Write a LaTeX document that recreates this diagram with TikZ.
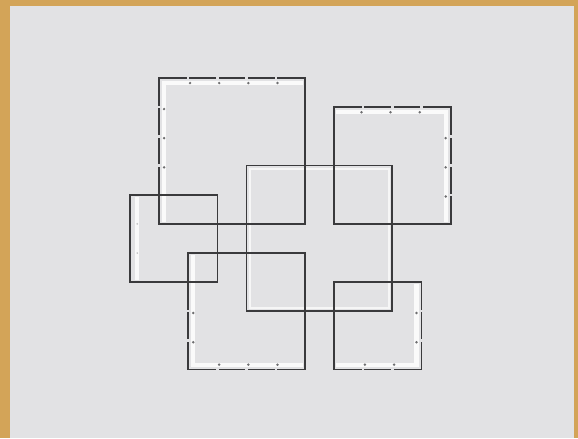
\documentclass[tikz,border=0pt]{standalone}
\definecolor{paper}{HTML}{E2E2E4}
\definecolor{frame}{HTML}{D3A458}
\definecolor{edge}{HTML}{3A3A3C}
\definecolor{stitch}{HTML}{6E6E70}

\begin{document}
\begin{tikzpicture}[x=.75cm,y=.75cm,
  outline/.style={draw=edge,line width=1.3pt},
  band/.style={draw=white,line width=3pt,opacity=.85},
  faintband/.style={draw=white,line width=1.4pt,opacity=.7},
  gap/.style={fill=paper},
  notch/.style={fill=stitch}]
% frame and paper
\useasboundingbox (-4.46,-2.35) rectangle (15.37,12.68);
\fill[frame] (-4.46,-2.35) rectangle (15.37,12.68);
\fill[paper] (-4.12,-2.35) rectangle (15.23,12.49);
% light bands inside the edges
\draw[band] (1.17,5.05)--(1.17,9.83)--(5.92,9.83);
\draw[band] (.25,3.08)--(.25,5.92);
\draw[band] (2.17,3.92)--(2.17,.17)--(5.92,.17);
\draw[band] (7.08,8.83)--(10.83,8.83)--(10.83,5.08);
\draw[band] (9.83,2.92)--(9.83,.17)--(7.08,.17);
\draw[faintband] (4.12,2.12) rectangle (8.88,6.88);
% the six squares
\draw[outline] (1,5) rectangle (6,10);
\draw[outline] (0,3) rectangle (3,6);
\draw[outline] (2,0) rectangle (6,4);
\draw[outline] (7,5) rectangle (11,9);
\draw[outline] (7,0) rectangle (10,3);
\draw[outline] (4,2) rectangle (9,7);
% stitches
\foreach \t in {2,...,5} {
  \fill[gap] (\t-.04,9.95) rectangle (\t+.04,10.05);
  \fill[notch] (\t+.06,9.83) circle (1pt);
}
\foreach \t in {7,8,9} {
  \fill[gap] (.95,\t-.04) rectangle (1.05,\t+.04);
  \fill[notch] (1.17,\t-.06) circle (1pt);
}
\foreach \t in {4,5}
  \fill[stitch!40] (.25,\t) circle (.7pt);
\foreach \t in {1,2} {
  \fill[gap] (1.95,\t-.04) rectangle (2.05,\t+.04);
  \fill[notch] (2.17,\t-.06) circle (1pt);
}
\foreach \t in {3,4,5} {
  \fill[gap] (\t-.04,-.05) rectangle (\t+.04,.05);
  \fill[notch] (\t+.06,.17) circle (1pt);
}
\foreach \t in {8,9,10} {
  \fill[gap] (\t-.04,8.95) rectangle (\t+.04,9.05);
  \fill[notch] (\t-.06,8.83) circle (1pt);
}
\foreach \t in {6,7,8} {
  \fill[gap] (10.95,\t-.04) rectangle (11.05,\t+.04);
  \fill[notch] (10.83,\t-.06) circle (1pt);
}
\foreach \t in {1,2} {
  \fill[gap] (9.95,\t-.04) rectangle (10.05,\t+.04);
  \fill[notch] (9.83,\t-.06) circle (1pt);
}
\foreach \t in {8,9} {
  \fill[gap] (\t-.04,-.05) rectangle (\t+.04,.05);
  \fill[notch] (\t+.06,.17) circle (1pt);
}
\end{tikzpicture}
\end{document}
